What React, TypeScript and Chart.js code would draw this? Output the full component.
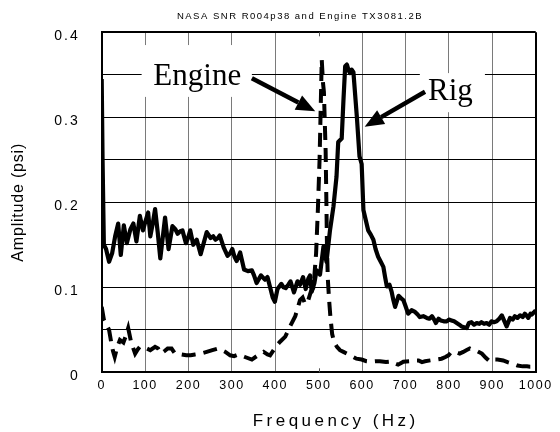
import React, { useEffect, useRef } from 'react';
import { Chart, registerables } from 'chart.js';

Chart.register(...registerables);

// ---------- data ----------
const chartTitle = 'NASA SNR R004p38 and Engine TX3081.2B';
const xAxisTitle = 'Frequency (Hz)';
const yAxisTitle = 'Amplitude (psi)';

const xTickValues = [0, 100, 200, 300, 400, 500, 600, 700, 800, 900, 1000];
const yGridValues = [0, 0.05, 0.1, 0.15, 0.2, 0.25, 0.3, 0.35, 0.4];

const rigFreq = [
  0, 2, 5, 10, 17, 24, 31, 38, 44, 51, 58, 66, 73, 80, 88, 95, 101, 107, 112, 118,
  123, 129, 135, 141, 146, 154, 163, 170, 175, 181, 186, 194, 199, 204, 211, 219, 228, 235, 242, 251,
  257, 262, 268, 272, 281, 290, 296, 301, 306, 311, 319, 328, 337, 346, 351, 357, 367, 376, 382, 388,
  394, 399, 405, 414, 419, 424, 430, 435, 443, 451, 457, 464, 470, 476, 480, 484, 490, 495, 503, 511,
  518, 526, 534, 541, 545, 553, 557, 561, 565, 569, 572, 576, 580, 588, 594, 599, 603, 608, 614, 620,
  626, 631, 637, 643, 649, 653, 657, 663, 668, 672, 676, 684, 690, 695, 700, 706, 714, 722, 728, 733,
  741, 749, 755, 761, 766, 770, 776, 781, 788, 795, 800, 806, 812, 818, 824, 829, 835, 841, 846, 852,
  858, 864, 870, 875, 881, 887, 893, 898, 904, 910, 916, 922, 928, 933, 941, 947, 952, 958, 964, 970,
  975, 980, 983, 988, 991, 995, 1000,
];
const rigAmp = [
  0.345, 0.25, 0.15, 0.145, 0.13, 0.14, 0.16, 0.175, 0.138, 0.173, 0.152, 0.168, 0.175, 0.154, 0.184, 0.167, 0.178, 0.188, 0.16, 0.176,
  0.192, 0.165, 0.134, 0.16, 0.182, 0.145, 0.172, 0.168, 0.163, 0.166, 0.167, 0.152, 0.158, 0.167, 0.15, 0.156, 0.139, 0.152, 0.165, 0.158,
  0.16, 0.156, 0.158, 0.161, 0.147, 0.137, 0.14, 0.145, 0.136, 0.131, 0.141, 0.121, 0.119, 0.12, 0.114, 0.105, 0.114, 0.109, 0.112, 0.1,
  0.088, 0.083, 0.098, 0.104, 0.1, 0.099, 0.103, 0.107, 0.094, 0.107, 0.103, 0.112, 0.098, 0.11, 0.114, 0.095, 0.105, 0.12, 0.115, 0.148,
  0.13, 0.167, 0.195, 0.23, 0.271, 0.275, 0.32, 0.36, 0.362, 0.355, 0.352, 0.356, 0.353, 0.3, 0.254, 0.245, 0.191, 0.18, 0.167, 0.162,
  0.156, 0.145, 0.136, 0.13, 0.124, 0.112, 0.101, 0.103, 0.095, 0.085, 0.077, 0.09, 0.087, 0.085, 0.078, 0.069, 0.073, 0.071, 0.068, 0.065,
  0.066, 0.064, 0.063, 0.066, 0.062, 0.058, 0.063, 0.061, 0.06, 0.06, 0.062, 0.061, 0.06, 0.058, 0.056, 0.054, 0.053, 0.052, 0.058, 0.059,
  0.056, 0.058, 0.057, 0.059, 0.057, 0.058, 0.056, 0.06, 0.059, 0.06, 0.063, 0.067, 0.06, 0.054, 0.064, 0.062, 0.066, 0.064, 0.067, 0.065,
  0.069, 0.066, 0.064, 0.069, 0.068, 0.07, 0.073,
];

const engineFreq = [
  0, 5, 12, 17, 22, 26, 30, 36, 42, 50, 55, 61, 68, 77, 83, 88, 96, 104, 112, 123,
  130, 137, 145, 152, 161, 169, 177, 184, 195, 205, 215, 228, 242, 255, 269, 277, 285, 296, 305, 315,
  330, 346, 360, 373, 382, 388, 396, 404, 411, 423, 434, 446, 457, 463, 469, 476, 482, 488, 494, 498,
  502, 505, 507, 510, 512, 516, 518, 519, 521, 524, 527, 531, 536, 542, 549, 557, 565, 576, 587, 599,
  610, 618, 630, 641, 655, 665, 672, 678, 683, 690, 695, 710, 720, 730, 738, 745, 757, 770, 783, 792,
  799, 806, 815, 825, 833, 840, 848, 856, 865, 876, 885, 895, 902, 912, 925, 935, 948, 958, 970, 980,
  987, 995, 1000,
];
const engineAmp = [
  0.077, 0.062, 0.055, 0.05, 0.035, 0.025, 0.018, 0.03, 0.038, 0.035, 0.042, 0.052, 0.035, 0.022, 0.027, 0.03, 0.03, 0.028, 0.026, 0.03,
  0.028, 0.022, 0.025, 0.028, 0.028, 0.022, 0.021, 0.021, 0.02, 0.02, 0.021, 0.022, 0.024, 0.026, 0.028, 0.026, 0.024, 0.02, 0.019, 0.021,
  0.018, 0.015, 0.02, 0.024, 0.021, 0.02, 0.026, 0.032, 0.036, 0.042, 0.054, 0.066, 0.085, 0.088, 0.08, 0.085, 0.095, 0.1, 0.14, 0.19,
  0.25, 0.32, 0.368, 0.34, 0.33, 0.26, 0.19, 0.15, 0.11, 0.085, 0.065, 0.045, 0.035, 0.03, 0.026, 0.024, 0.022, 0.019, 0.016, 0.015,
  0.013, 0.0125, 0.013, 0.013, 0.012, 0.0125, 0.0125, 0.01, 0.009, 0.011, 0.0125, 0.013, 0.014, 0.014, 0.012, 0.013, 0.014, 0.015, 0.016, 0.018,
  0.02, 0.024, 0.024, 0.022, 0.024, 0.026, 0.028, 0.026, 0.025, 0.022, 0.017, 0.0125, 0.015, 0.015, 0.014, 0.012, 0.01, 0.008, 0.007, 0.007,
  0.0066, 0.0066, 0.0066,
];

// annotation labels
const engineLabel = 'Engine';
const rigLabel = 'Rig';

function toPoints(xs: number[], ys: number[]) {
  return xs.map((x, i) => ({ x, y: ys[i] }));
}

const annotationPlugin = {
  id: 'annotations',
  beforeDraw(chart: any) {
    const patch = (scale: any, labelSpacing: string, titleSpacing: string, dx: number, dy: number) => {
      if (!scale || scale.__patched) return;
      scale.__patched = true;
      const dl = scale.drawLabels.bind(scale);
      scale.drawLabels = (area: any) => {
        const c = scale.ctx;
        c.save();
        c.letterSpacing = labelSpacing;
        dl(area);
        c.restore();
      };
      const dt = scale.drawTitle.bind(scale);
      scale.drawTitle = () => {
        const c = scale.ctx;
        c.save();
        c.letterSpacing = titleSpacing;
        c.translate(dx, dy);
        dt();
        c.restore();
      };
    };
    patch(chart.scales.x, '1.5px', '3.5px', 17, 0);
    patch(chart.scales.y, '2px', '0.8px', 0, 0);
  },
  beforeDatasetsDraw(chart: any) {
    const { ctx, scales } = chart;
    const x = scales.x, y = scales.y;
    ctx.save();
    ctx.fillStyle = '#ffffff';
    const eb = [x.getPixelForValue(92), y.getPixelForValue(0.385), x.getPixelForValue(346), y.getPixelForValue(0.324)];
    ctx.fillRect(eb[0], eb[1], eb[2] - eb[0], eb[3] - eb[1]);
    const rb = [x.getPixelForValue(733), y.getPixelForValue(0.352), x.getPixelForValue(883), y.getPixelForValue(0.306)];
    ctx.fillRect(rb[0], rb[1], rb[2] - rb[0], rb[3] - rb[1]);
    ctx.strokeStyle = '#555';
    ctx.lineWidth = 1;
    const px = Math.round(x.getPixelForValue(500)) + 0.5;
    ctx.beginPath();
    ctx.moveTo(px, chart.chartArea.top);
    ctx.lineTo(px, chart.chartArea.top + 4);
    ctx.moveTo(px, chart.chartArea.bottom);
    ctx.lineTo(px, chart.chartArea.bottom - 4);
    ctx.stroke();
    ctx.restore();
  },
  afterDatasetsDraw(chart: any) {
    const { ctx, scales } = chart;
    const x = scales.x, y = scales.y;
    ctx.save();
    ctx.fillStyle = '#000';
    ctx.strokeStyle = '#000';
    ctx.font = '31px "Liberation Serif", serif';
    ctx.textBaseline = 'alphabetic';
    ctx.textAlign = 'left';
    ctx.fillText(engineLabel, x.getPixelForValue(119), y.getPixelForValue(0.338));
    ctx.fillText(rigLabel, x.getPixelForValue(752), y.getPixelForValue(0.32));

    const arrow = (f0: number, v0: number, f1: number, v1: number) => {
      const x0 = x.getPixelForValue(f0), y0 = y.getPixelForValue(v0);
      const x1 = x.getPixelForValue(f1), y1 = y.getPixelForValue(v1);
      const ang = Math.atan2(y1 - y0, x1 - x0);
      const headLen = 19, headW = 8;
      const bx = x1 - headLen * Math.cos(ang), by = y1 - headLen * Math.sin(ang);
      ctx.lineWidth = 4.5;
      ctx.lineCap = 'butt';
      ctx.beginPath();
      ctx.moveTo(x0, y0);
      ctx.lineTo(bx, by);
      ctx.stroke();
      ctx.beginPath();
      ctx.moveTo(x1, y1);
      ctx.lineTo(bx + headW * Math.sin(ang), by - headW * Math.cos(ang));
      ctx.lineTo(bx - headW * Math.sin(ang), by + headW * Math.cos(ang));
      ctx.closePath();
      ctx.fill();
    };
    arrow(346, 0.346, 492, 0.307);
    arrow(745, 0.33, 606, 0.289);

    ctx.font = '9.5px "Liberation Sans", Arial, sans-serif';
    ctx.letterSpacing = '1.5px';
    ctx.textAlign = 'center';
    ctx.textBaseline = 'middle';
    ctx.fillText(chartTitle, 300, 16.5);
    ctx.restore();
  },
};

export default function App() {
  const ref = useRef<HTMLCanvasElement | null>(null);
  useEffect(() => {
    if (!ref.current) return;
    const chart = new Chart(ref.current, {
      type: 'line',
      data: {
        datasets: [
          {
            label: 'Rig',
            data: toPoints(rigFreq, rigAmp),
            borderColor: '#000',
            borderWidth: 4.2,
            pointRadius: 0,
            tension: 0,
            fill: false,
            borderJoinStyle: 'round',
          },
          {
            label: 'Engine',
            data: toPoints(engineFreq, engineAmp),
            borderColor: '#000',
            borderWidth: 4,
            borderDash: [14, 8],
            pointRadius: 0,
            tension: 0,
            fill: false,
          },
        ],
      },
      options: {
        animation: false,
        responsive: true,
        maintainAspectRatio: false,
        layout: { padding: { left: 0, right: 24.3, top: 32.3, bottom: 0 } },
        plugins: {
          legend: { display: false },
          tooltip: { enabled: false },
          title: { display: false },
        },
        scales: {
          x: {
            type: 'linear',
            min: 0,
            max: 1000,
            afterBuildTicks: (s: any) => {
              s.ticks = xTickValues.map((v) => ({ value: v }));
            },
            afterFit: (s: any) => {
              s.height = 59.7;
            },
            grid: {
              drawTicks: false,
              color: (c: any) => {
                const v = c.tick && c.tick.value;
                if (v === 500) return 'rgba(0,0,0,0)';
                if (v === 0 || v === 1000) return '#000';
                return '#7a7a7a';
              },
              lineWidth: (c: any) => {
                const v = c.tick && c.tick.value;
                return v === 0 || v === 1000 ? 2 : 1;
              },
            },
            border: { display: true, color: '#000', width: 2 },
            ticks: {
              padding: 6,
              maxRotation: 0,
              autoSkip: false,
              color: '#000',
              font: { family: '"Liberation Sans", Arial, sans-serif', size: 12.5 },
              callback: (v: any) => String(v),
            },
            title: {
              display: true,
              text: xAxisTitle,
              color: '#000',
              font: { family: '"Liberation Sans", Arial, sans-serif', size: 17 },
              padding: { top: 0, bottom: 0 },
            },
          },
          y: {
            type: 'linear',
            min: 0,
            max: 0.4,
            afterBuildTicks: (s: any) => {
              s.ticks = yGridValues.map((v) => ({ value: v }));
            },
            afterFit: (s: any) => {
              s.width = 101.7;
            },
            grid: {
              drawTicks: false,
              color: '#000',
              lineWidth: (c: any) => {
                const v = c.tick && c.tick.value;
                return v === 0.4 || v === 0 ? 2 : 1;
              },
            },
            border: { display: true, color: '#000', width: 2 },
            ticks: {
              padding: 22,
              labelOffset: 4,
              autoSkip: false,
              color: '#000',
              font: { family: '"Liberation Sans", Arial, sans-serif', size: 14 },
              callback: (v: any) => {
                const n = Number(v);
                if (Math.abs(n * 10 - Math.round(n * 10)) > 1e-6) return '';
                return n === 0 ? '0' : n.toFixed(1);
              },
            },
            title: {
              display: true,
              text: yAxisTitle,
              color: '#000',
              font: { family: '"Liberation Sans", Arial, sans-serif', size: 16 },
              padding: { top: 9, bottom: 0 },
            },
          },
        },
      },
      plugins: [annotationPlugin],
    });
    return () => chart.destroy();
  }, []);
  return (
    <div style={{ position: 'fixed', left: 0, top: 0, width: 560, height: 432, background: '#fff' }}>
      <canvas ref={ref} />
    </div>
  );
}
